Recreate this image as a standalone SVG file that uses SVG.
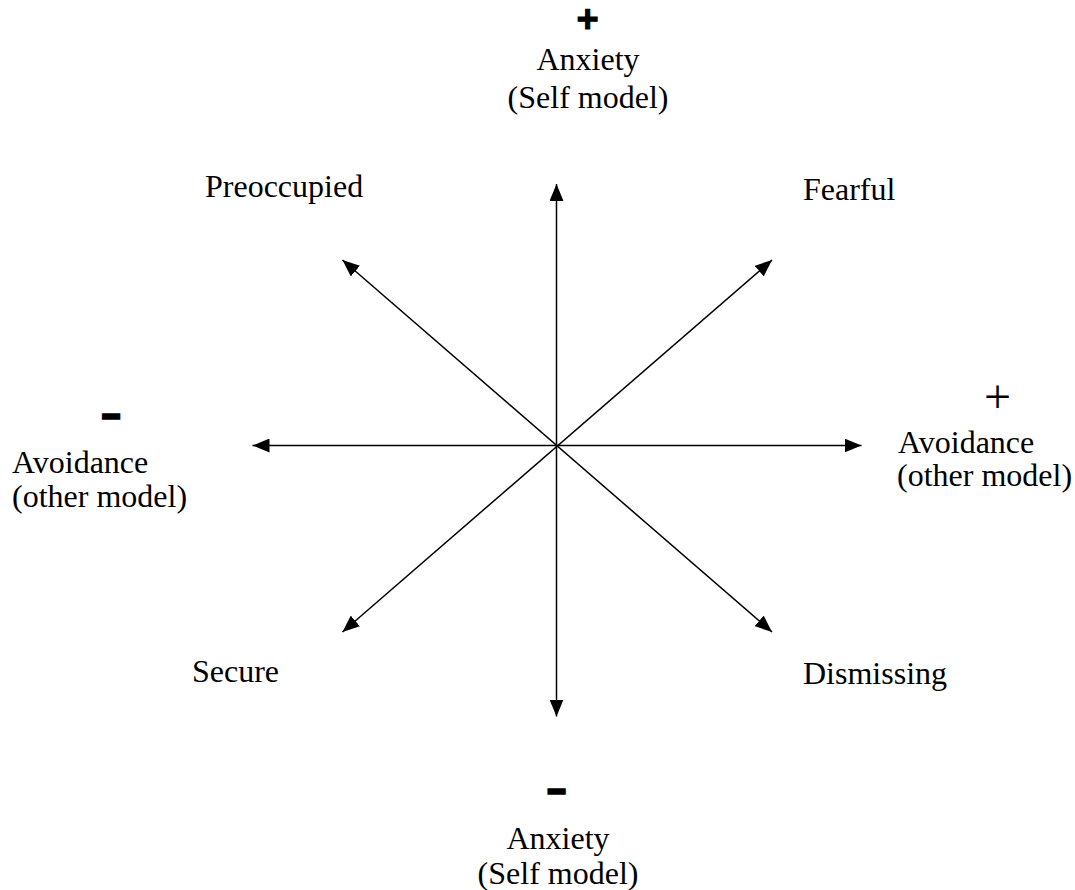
<svg xmlns="http://www.w3.org/2000/svg" width="1075" height="890" viewBox="0 0 1075 890">
<style>
.t{font-family:"Liberation Serif","Times New Roman",serif;font-size:32px;fill:#000}
.s{font-family:"Liberation Sans",Arial,sans-serif;font-weight:bold;font-size:38px;fill:#000;stroke:#000;stroke-width:1}
.p{font-family:"Liberation Serif","Times New Roman",serif;font-size:48px;fill:#000}
.m{font-family:"Liberation Sans",Arial,sans-serif;font-weight:bold;font-size:30px;fill:#000;stroke:#000;stroke-width:3.5}
.ax{stroke:#000;stroke-width:1.5;fill:none;marker-start:url(#ah);marker-end:url(#ah)}
</style>
<defs>
<marker id="ah" markerUnits="userSpaceOnUse" markerWidth="18" markerHeight="14" refX="17" refY="7" orient="auto-start-reverse">
<path d="M0,0 L17,7 L0,14 z" fill="#000"/>
</marker>
</defs>
<rect width="1075" height="890" fill="#fff"/>
<g id="connectors">
<line class="ax" x1="556.5" y1="184" x2="556.5" y2="716.5"/>
<line class="ax" x1="252.5" y1="445.5" x2="861.5" y2="445.5"/>
<line class="ax" x1="342.5" y1="260" x2="772" y2="632"/>
<line class="ax" x1="772" y1="260" x2="342.5" y2="632"/>
</g>
<g id="anxiety-high">
<text class="s" x="587.5" y="32" text-anchor="middle">+</text>
<text class="t" x="588" y="70" text-anchor="middle">Anxiety</text>
<text class="t" x="588" y="108" text-anchor="middle">(Self model)</text>
</g>
<g id="anxiety-low">
<text class="m" x="556.5" y="799.5" text-anchor="middle">–</text>
<text class="t" x="558" y="849" text-anchor="middle">Anxiety</text>
<text class="t" x="558" y="884" text-anchor="middle">(Self model)</text>
</g>
<g id="avoidance-low">
<text class="m" x="111" y="424.5" text-anchor="middle">–</text>
<text class="t" x="12" y="473">Avoidance</text>
<text class="t" x="12" y="507">(other model)</text>
</g>
<g id="avoidance-high">
<text class="p" x="997.5" y="413" text-anchor="middle">+</text>
<text class="t" x="898" y="453">Avoidance</text>
<text class="t" x="897" y="486">(other model)</text>
</g>
<g id="preoccupied"><text class="t" x="205" y="197">Preoccupied</text></g>
<g id="fearful"><text class="t" x="803" y="200">Fearful</text></g>
<g id="secure"><text class="t" x="192" y="682">Secure</text></g>
<g id="dismissing"><text class="t" x="803" y="684">Dismissing</text></g>
</svg>
